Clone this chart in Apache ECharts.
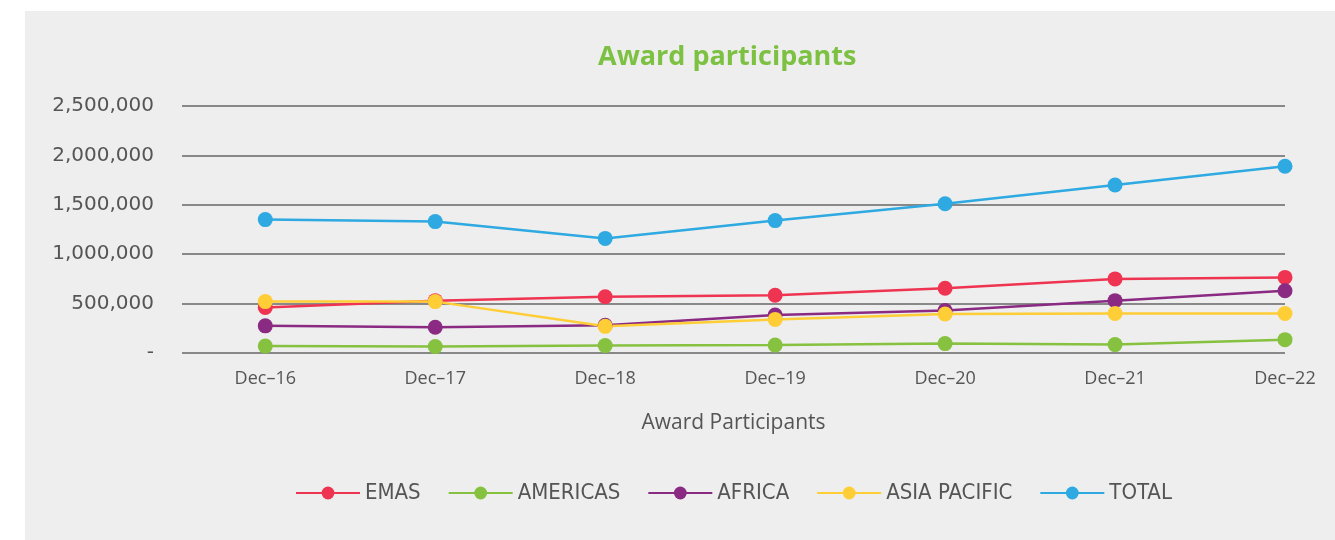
<!DOCTYPE html>
<html>
<head>
<meta charset="utf-8">
<script src="https://cdn.jsdelivr.net/npm/echarts@6/dist/echarts.min.js"></script>
<style>
  html, body { margin: 0; padding: 0; background: #fff; }
  #wrap { position: relative; width: 1335px; height: 540px; }
  #panel { position: absolute; left: 25px; top: 11px; width: 1310px; height: 529px; background: #edeeed; }
  #chart { position: absolute; left: 0; top: 0; width: 1335px; height: 540px; }
</style>
</head>
<body>
<div id="wrap">
  <div id="panel"></div>
  <div id="chart"></div>
</div>
<script>
var categories = ['Dec–16', 'Dec–17', 'Dec–18', 'Dec–19', 'Dec–20', 'Dec–21', 'Dec–22'];
var emas = [460000, 530000, 570000, 585000, 655000, 750000, 765000];
var americas = [70000, 65000, 75000, 80000, 95000, 85000, 135000];
var africa = [275000, 260000, 280000, 385000, 430000, 530000, 630000];
var asiaPacific = [520000, 520000, 270000, 340000, 395000, 400000, 400000];
var total = [1350000, 1330000, 1160000, 1340000, 1510000, 1700000, 1890000];
var yTicks = [0, 500000, 1000000, 1500000, 2000000, 2500000];

var seriesList = [
  { name: 'EMAS', values: emas, color: '#ef3452' },
  { name: 'AMERICAS', values: americas, color: '#86c140' },
  { name: 'AFRICA', values: africa, color: '#8a2a83' },
  { name: 'ASIA PACIFIC', values: asiaPacific, color: '#ffcd36' },
  { name: 'TOTAL', values: total, color: '#2ea9e1' }
];

function fmt(v) {
  if (v === 0) return '-';
  return String(v).replace(/\B(?=(\d{3})+(?!\d))/g, ',');
}

var chartDom = document.getElementById('chart');
var myChart = echarts.init(chartDom);
var option;
option = {
  animation: false,
  title: {
    text: 'Award participants',
    left: 593,
    top: 39,
    textStyle: {
      color: '#7dc142',
      fontFamily: 'Open Sans',
      fontWeight: 'bold',
      fontSize: 27
    }
  },
  legend: {
    top: 477,
    left: 290,
    itemWidth: 64,
    itemHeight: 16,
    itemGap: 27,
    textStyle: {
      color: '#555',
      fontFamily: '"DejaVu Sans Condensed", Roboto, sans-serif',
      fontSize: 22
    },
    data: seriesList.map(function (s) { return s.name; })
  },
  grid: {
    left: 182,
    right: 50,
    top: 106,
    bottom: 187
  },
  xAxis: {
    type: 'value',
    min: -0.49,
    max: 6,
    name: 'Award Participants',
    nameLocation: 'middle',
    nameGap: 60,
    nameTextStyle: { color: '#555', fontFamily: 'Open Sans', fontSize: 21 },
    axisLine: { show: false },
    axisTick: { show: false },
    splitLine: { show: false },
    axisLabel: {
      customValues: categories.map(function (c, i) { return i; }),
      formatter: function (v) { return categories[Math.round(v)]; },
      color: '#555',
      fontFamily: 'Open Sans',
      fontSize: 18,
      margin: 17
    }
  },
  yAxis: {
    type: 'value',
    min: yTicks[0],
    max: yTicks[yTicks.length - 1],
    interval: 500000,
    axisLine: { show: false },
    axisTick: { show: false },
    splitLine: { lineStyle: { color: '#666', width: 1.5 } },
    axisLabel: {
      formatter: fmt,
      color: '#555',
      fontFamily: 'DejaVu Sans',
      fontSize: 20,
      margin: 28
    }
  },
  series: seriesList.map(function (s) {
    return {
      name: s.name,
      type: 'line',
      data: s.values.map(function (v, i) { return [i, v]; }),
      symbol: 'circle',
      symbolSize: 15,
      itemStyle: { color: s.color },
      lineStyle: { color: s.color, width: 2.5 }
    };
  })
};

option && myChart.setOption(option);
</script>
</body>
</html>
